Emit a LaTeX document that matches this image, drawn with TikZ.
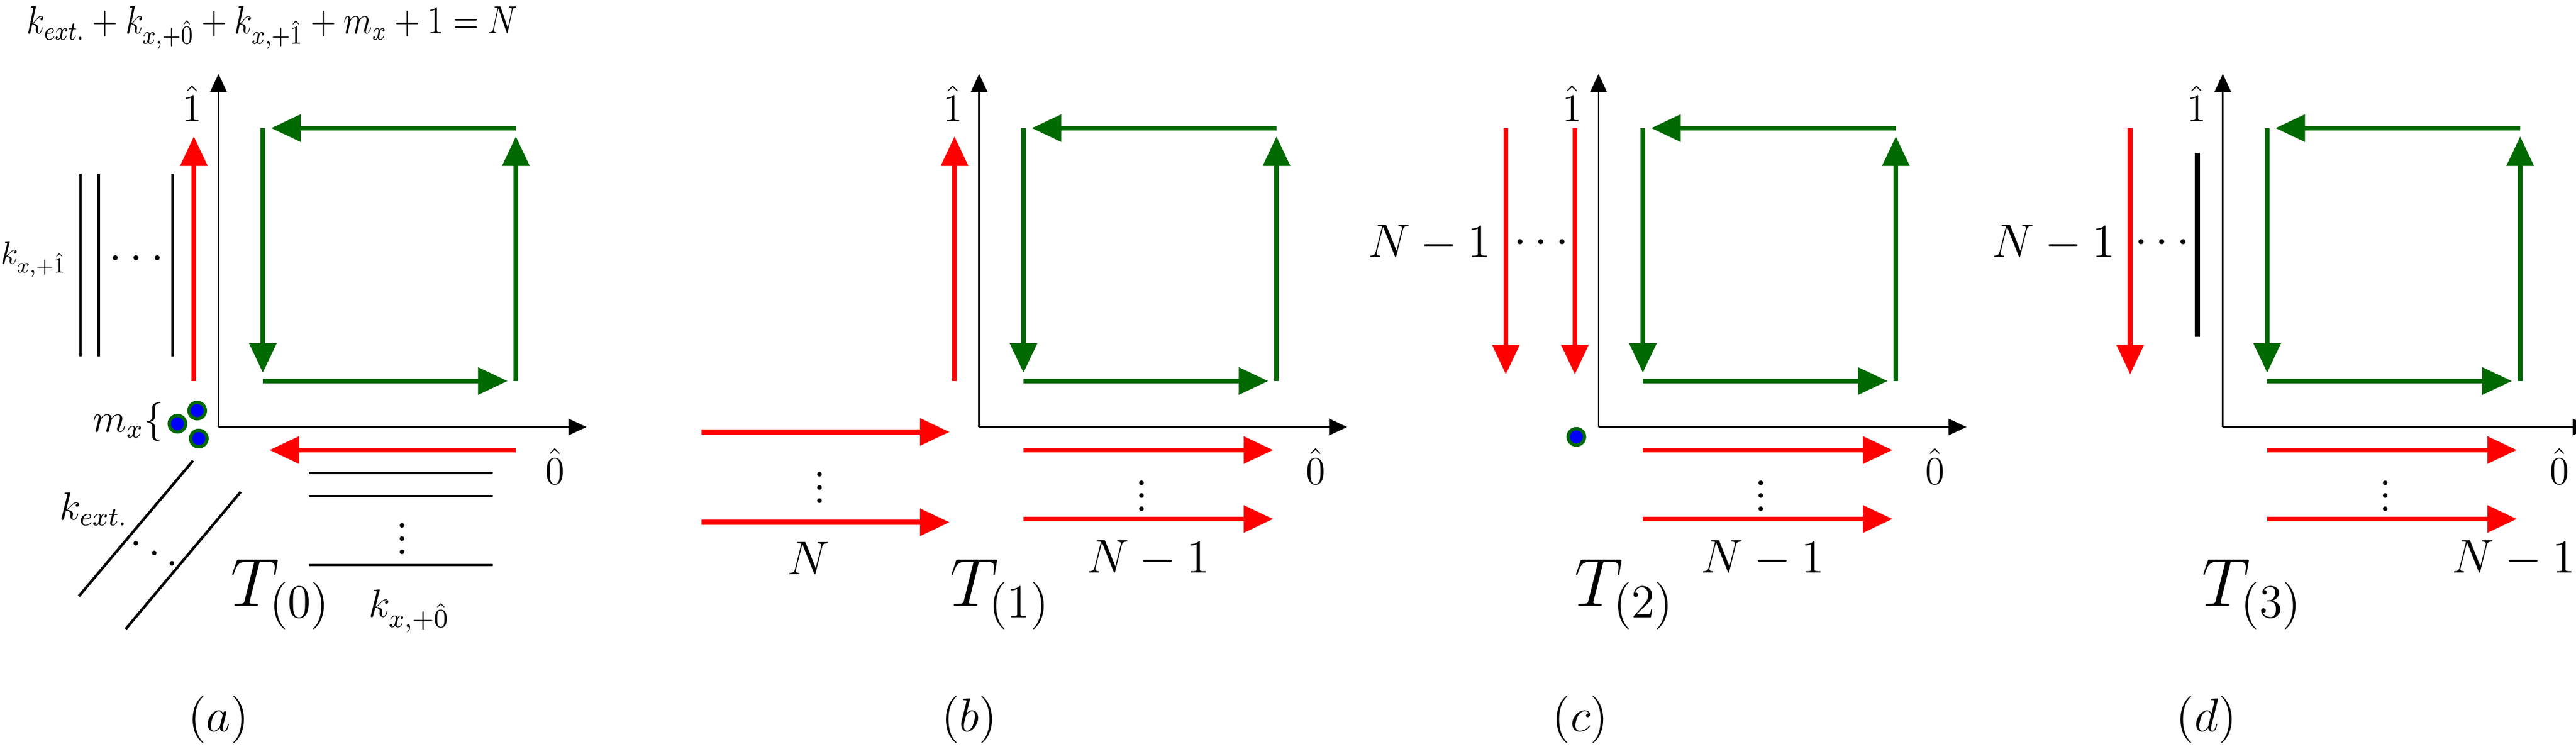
\documentclass[tikz,border=0pt]{standalone}
\usepackage{graphicx}
\usetikzlibrary{arrows.meta,calc}
\definecolor{dgreen}{RGB}{0,105,0}
\tikzset{
  axis/.style={line width=0.5pt,-{Triangle[length=5.5pt,width=5pt]}},
  garrow/.style={line width=1.5pt,dgreen,-{Triangle[length=9pt,width=8pt]}},
  rarrow/.style={line width=1.5pt,red,-{Triangle[length=9pt,width=8pt]}},
  bline/.style={line width=0.8pt},
  lbl/.style={inner sep=0pt,font=\Large},
  hat/.style={inner sep=0pt,font=\large},
  sml/.style={inner sep=0pt,font=\large},
  dts/.style={inner sep=0pt,font=\Large},
  dotpt/.style={circle,fill=blue,draw=dgreen,line width=1pt,minimum size=5pt,inner sep=0pt},
  bigT/.style={inner sep=0pt,font=\huge},
}
\newcommand\panelbase{%
  \coordinate (O) at (133,260); \coordinate (Yt) at (133,45); \coordinate (Xe) at (357,260);
  \draw[axis] (O)--(Yt); \draw[axis] (O)--(Xe);
  \coordinate (g1) at (160,78); \coordinate (g2) at (314,78);
  \coordinate (g3) at (314,232); \coordinate (g4) at (160,232);
  \draw[garrow,shorten >=2.5pt] (g2)--(g1);
  \draw[garrow,shorten >=2.5pt] (g1)--(g4);
  \draw[garrow,shorten >=2.5pt] (g4)--(g3);
  \draw[garrow,shorten >=2.5pt] (g3)--(g2);
  \node[hat] (l1) at (117,63) {$\hat{1}$};
  \node[hat] (l0) at (338,284) {$\hat{0}$};
}
\begin{document}
\begin{tikzpicture}[x=0.5pt,y=-0.5pt]
\useasboundingbox (0,0) rectangle (1568,456);
\node[inner sep=0pt,anchor=west] (title) at (16,17) {\scalebox{0.85}[1]{\large$k_{ext.}+k_{x,+\hat{0}}+k_{x,+\hat{1}}+m_x+1=N$}};
% (a)
\begin{scope}[name prefix=a-]
\panelbase
\coordinate (ru1) at (118,232); \coordinate (ru2) at (118,83);
\draw[rarrow] (ru1)--(ru2);
\foreach \x/\n in {49/v1,60/v2,105/v3}{\coordinate (\n t) at (\x,106); \coordinate (\n b) at (\x,217); \draw[bline] (\n t)--(\n b);}
\node[dts] (hd) at (83,158) {$\cdots$};
\node[sml,anchor=west] (k1) at (0,158) {\resizebox{20pt}{!}{$k_{x,+\hat{1}}$}};
\node[dotpt] (d1) at (108,258) {};
\node[dotpt] (d2) at (120,250) {};
\node[dotpt] (d3) at (121,267) {};
\node[sml,anchor=east] (mx) at (100,257) {$m_x\{$};
\coordinate (rl1) at (314,274); \coordinate (rl2) at (164,274);
\draw[rarrow] (rl1)--(rl2);
\foreach \y/\n in {288/h1,302/h2,344/h3}{\coordinate (\n l) at (188,\y); \coordinate (\n r) at (300,\y); \draw[bline] (\n l)--(\n r);}
\node[dts] (vd) at (245,322) {$\vdots$};
\node[sml] (k0) at (249,372) {$k_{x,+\hat{0}}$};
\coordinate (e1a) at (48,363); \coordinate (e1b) at (117.5,280.5);
\coordinate (e2a) at (76.5,383); \coordinate (e2b) at (146.5,299.5);
\draw[bline] (e1a)--(e1b); \draw[bline] (e2a)--(e2b);
\node[dts] (dd) at (94,331) {$\ddots$};
\node[sml] (ke) at (57,310) {$k_{ext.}$};
\node[bigT,anchor=west] (T) at (140,362) {$T_{(0)}$};
\node[lbl] (cap) at (133,438) {$(a)$};
\end{scope}
% (b)
\begin{scope}[shift={(463,0)},name prefix=b-]
\panelbase
\coordinate (ru1) at (118,232); \coordinate (ru2) at (118,83);
\draw[rarrow] (ru1)--(ru2);
\coordinate (p1) at (-36,263); \coordinate (q1) at (115,263);
\coordinate (p2) at (-36,318); \coordinate (q2) at (115,318);
\draw[rarrow] (p1)--(q1); \draw[rarrow] (p2)--(q2);
\node[dts] (vl) at (36,291) {$\vdots$};
\node[lbl] (Nl) at (29,340) {$N$};
\coordinate (s1) at (160,274); \coordinate (t1) at (312,274);
\coordinate (s2) at (160,316); \coordinate (t2) at (312,316);
\draw[rarrow] (s1)--(t1); \draw[rarrow] (s2)--(t2);
\node[dts] (vr) at (232,296) {$\vdots$};
\node[lbl] (Nr) at (236,340) {$N-1$};
\node[bigT,anchor=west] (T) at (115,362) {$T_{(1)}$};
\node[lbl] (cap) at (127,438) {$(b)$};
\end{scope}
% (c)
\begin{scope}[shift={(840,0)},name prefix=c-]
\panelbase
\coordinate (a1) at (76.6,78); \coordinate (b1) at (76.6,228);
\coordinate (a2) at (118.6,78); \coordinate (b2) at (118.6,228);
\draw[rarrow] (a1)--(b1); \draw[rarrow] (a2)--(b2);
\node[dts] (hd) at (98,148) {$\cdots$};
\node[lbl,anchor=east] (Nl) at (68,148) {$N-1$};
\node[dotpt] (d1) at (119.5,266) {};
\coordinate (s1) at (160,274); \coordinate (t1) at (312,274);
\coordinate (s2) at (160,316); \coordinate (t2) at (312,316);
\draw[rarrow] (s1)--(t1); \draw[rarrow] (s2)--(t2);
\node[dts] (vr) at (232,296) {$\vdots$};
\node[lbl] (Nr) at (233,340) {$N-1$};
\node[bigT,anchor=west] (T) at (118,362) {$T_{(2)}$};
\node[lbl] (cap) at (122,438) {$(c)$};
\end{scope}
% (d)
\begin{scope}[shift={(1220,0)},name prefix=d-]
\panelbase
\coordinate (a1) at (76.6,78); \coordinate (b1) at (76.6,228);
\draw[rarrow] (a1)--(b1);
\coordinate (bt) at (117.5,93); \coordinate (bb) at (117.5,205);
\draw[line width=1.5pt] (bt)--(bb);
\node[dts] (hd) at (96,148) {$\cdots$};
\node[lbl,anchor=east] (Nl) at (68,148) {$N-1$};
\coordinate (s1) at (160,274); \coordinate (t1) at (312,274);
\coordinate (s2) at (160,316); \coordinate (t2) at (312,316);
\draw[rarrow] (s1)--(t1); \draw[rarrow] (s2)--(t2);
\node[dts] (vr) at (232,296) {$\vdots$};
\node[lbl,anchor=east] (Nr) at (348,340) {$N-1$};
\node[bigT,anchor=west] (T) at (120,362) {$T_{(3)}$};
\node[lbl] (cap) at (123,438) {$(d)$};
\end{scope}
\end{tikzpicture}
\end{document}
